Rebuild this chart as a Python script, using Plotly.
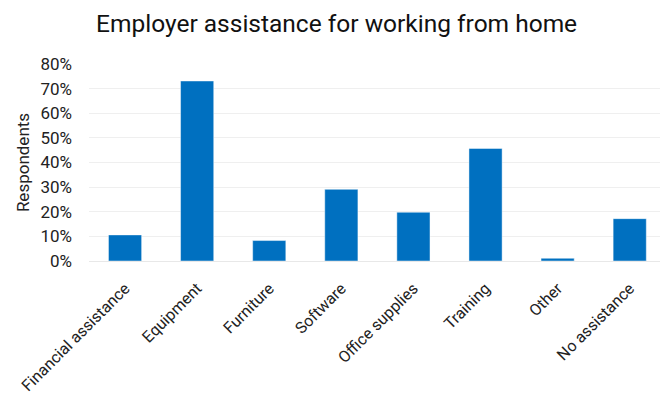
import plotly.graph_objects as go

categories = ["Financial assistance", "Equipment", "Furniture", "Software",
              "Office supplies", "Training", "Other", "No assistance"]
values = [0.106, 0.731, 0.083, 0.291, 0.198, 0.457, 0.011, 0.172]
y_ticks = [0, 0.1, 0.2, 0.3, 0.4, 0.5, 0.6, 0.7, 0.8]
y_tick_labels = ["0%", "10%", "20%", "30%", "40%", "50%", "60%", "70%", "80%"]

fig = go.Figure(go.Bar(
    x=categories, y=values,
    marker=dict(color="#0070C0", line=dict(color="rgba(255,255,255,0.45)", width=1)),
))

fig.update_layout(
    width=660, height=395,
    margin=dict(l=89, r=0, t=64, b=134),
    paper_bgcolor="white", plot_bgcolor="white",
    font=dict(family="Roboto", color="#222222", size=16),
    title=dict(text="Employer assistance for working from home",
               x=0.51, xanchor="center", y=0.94, yanchor="middle",
               font=dict(size=24.5, color="#111111")),
    bargap=0.54,
    showlegend=False,
)
fig.update_xaxes(range=[-0.5, 7.42], tickangle=-45, showgrid=False,
                 ticks="", showline=False, tickfont=dict(size=16),
                 ticklabelstandoff=14)
fig.update_yaxes(range=[0, 0.8], tickvals=y_ticks, ticktext=y_tick_labels,
                 showgrid=True, gridcolor="#efefef", gridwidth=1,
                 zeroline=True, zerolinecolor="#e8e8e8", zerolinewidth=1,
                 title=dict(text="Respondents", standoff=6, font=dict(size=17)),
                 tickfont=dict(size=17), ticks="", ticklabelstandoff=16)

fig.write_html("out.html")
